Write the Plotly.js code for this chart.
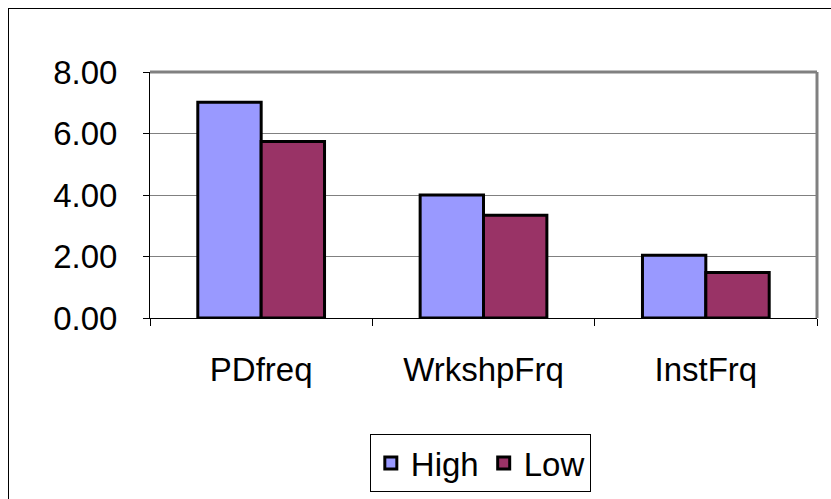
<!DOCTYPE html>
<html><head><meta charset="utf-8">
<script src="https://cdn.plot.ly/plotly-3.0.1.min.js"></script>
<style>
html,body{margin:0;padding:0;background:#fff;}
#frame{position:absolute;left:8px;top:8px;width:840px;height:510px;border:1px solid #000;box-sizing:border-box;}
#chart{position:absolute;left:0;top:0;width:831px;height:499px;}
</style>
</head><body>
<div id="frame"></div>
<div id="chart"></div>
<script>
const categories = ["PDfreq", "WrkshpFrq", "InstFrq"];
const highValues = [7.02, 4.00, 2.04];
const lowValues = [5.74, 3.34, 1.48];
const seriesNames = ["High", "Low"];
const yTicks = [0, 2, 4, 6, 8];
const yTickLabels = ["0.00", "2.00", "4.00", "6.00", "8.00"];

const font = {family: "Liberation Sans, Arial, sans-serif", size: 33, color: "#000"};
const traces = [
  {type: "bar", name: seriesNames[0], x: categories, y: highValues,
   marker: {color: "#9999FF", line: {color: "#000", width: 3}}},
  {type: "bar", name: seriesNames[1], x: categories, y: lowValues,
   marker: {color: "#993366", line: {color: "#000", width: 3}}}
];
const layout = {
  width: 831, height: 499,
  paper_bgcolor: "rgba(0,0,0,0)", plot_bgcolor: "#fff",
  margin: {l: 150, r: 14, t: 72, b: 181},
  font: font,
  barmode: "group", bargap: 0.43, bargroupgap: 0,
  showlegend: true,
  legend: {orientation: "h", xref: "container", yref: "container",
           x: 0.578, xanchor: "center", y: 0.13, yanchor: "top",
           bordercolor: "#000", borderwidth: 1, bgcolor: "#fff", font: font,
           itemclick: false, itemwidth: 30, tracegroupgap: 0},
  xaxis: {type: "category", showline: true, linecolor: "#000", linewidth: 1,
          ticks: "outside", tickson: "boundaries", ticklen: 7, tickcolor: "#000",
          ticklabelstandoff: 22, showgrid: false, zeroline: false, fixedrange: true},
  yaxis: {range: [0, 8], tickvals: yTicks, ticktext: yTickLabels,
          showline: true, linecolor: "#000", linewidth: 1,
          ticks: "outside", ticklen: 6, tickcolor: "#000", ticklabelstandoff: 19,
          showgrid: true, gridcolor: "#808080", gridwidth: 1, zeroline: false, fixedrange: true},
  shapes: [
    {type: "line", xref: "paper", yref: "paper", x0: 0, x1: 1, y0: 1, y1: 1,
     line: {color: "#808080", width: 3}},
    {type: "line", xref: "paper", yref: "paper", x0: 1, x1: 1, y0: 0, y1: 1,
     line: {color: "#808080", width: 3}}
  ]
};
Plotly.newPlot("chart", traces, layout, {displayModeBar: false, staticPlot: true});
</script>
</body></html>
